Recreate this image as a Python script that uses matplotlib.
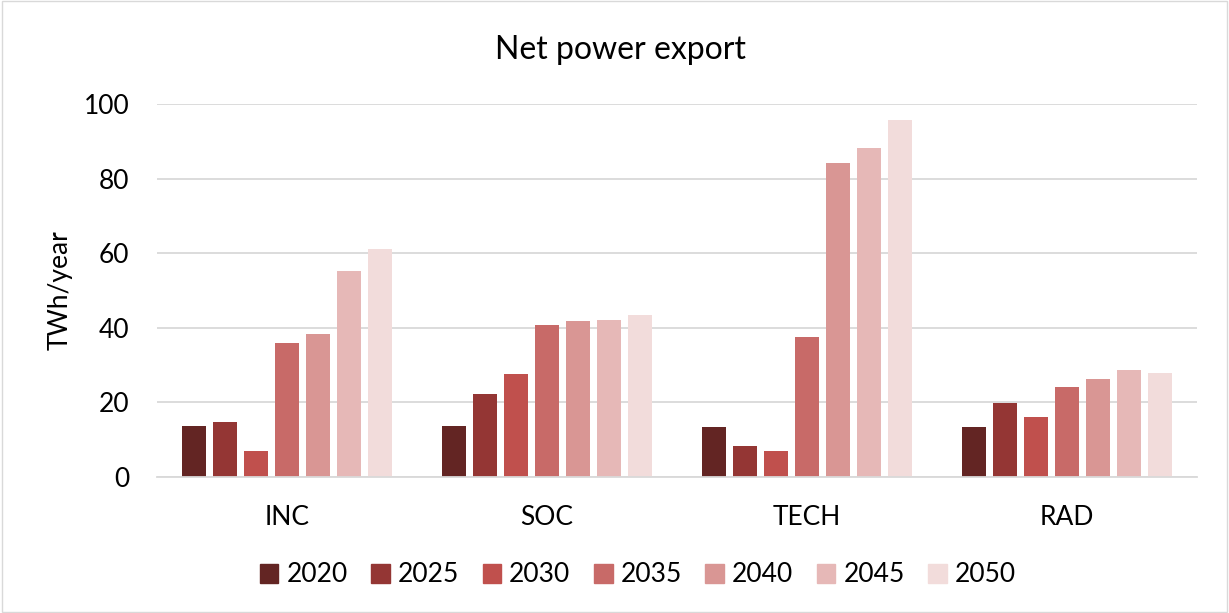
import matplotlib.pyplot as plt
import matplotlib.patches as mpatches
import numpy as np

plt.rcParams["font.family"] = ["Lato", "DejaVu Sans"]

scenarios = ["INC", "SOC", "TECH", "RAD"]
years = ["2020", "2025", "2030", "2035", "2040", "2045", "2050"]
inc = [13.6, 14.8, 7.1, 35.9, 38.3, 55.1, 61.2]
soc = [13.7, 22.2, 27.5, 40.8, 41.8, 42.1, 43.3]
tech = [13.3, 8.2, 6.9, 37.4, 84.1, 88.3, 95.8]
rad = [13.4, 19.9, 16.0, 24.0, 26.4, 28.6, 27.9]
colors = ["#632523", "#943634", "#C0504D", "#C86A68", "#D99694", "#E6B8B7", "#F2DCDB"]

values = np.array([inc, soc, tech, rad])

fig = plt.figure(figsize=(12.29, 6.13), dpi=100)
ax = fig.add_axes([157 / 1229, 1 - 477 / 613, 1040 / 1229, (477 - 104) / 613])

x = np.arange(len(scenarios))
step = 31 / 260
width = 24 / 260
for j, year in enumerate(years):
    offs = (j - 3) * step
    ax.bar(x + offs, values[:, j], width, color=colors[j], label=year, zorder=3)

ax.set_xlim(-0.5, len(scenarios) - 0.5)
ax.set_ylim(0, 100)
ax.set_yticks(range(0, 101, 20))
ax.yaxis.grid(True, color="#d9d9d9", linewidth=1.3, zorder=0)
ax.set_xticks(x)
ax.set_xticklabels(scenarios)
ax.tick_params(axis="both", length=0, labelsize=19, colors="black")
ax.tick_params(axis="x", pad=20)
ax.tick_params(axis="y", pad=20)
for s in ["top", "right", "left"]:
    ax.spines[s].set_visible(False)
ax.spines["bottom"].set_color("#d9d9d9")
ax.spines["bottom"].set_linewidth(1.3)
ax.spines["bottom"].set_zorder(4)

ax.set_ylabel("TWh/year", fontsize=19, labelpad=8)
fig.text(0.505, 1 - 50 / 613, "Net power export", ha="center", va="center", fontsize=23)

handles = [mpatches.Patch(color=c, label=y) for c, y in zip(colors, years)]
fig.legend(handles=handles, loc="center", bbox_to_anchor=(0.519, 1 - 575 / 613),
           ncol=7, frameon=False, fontsize=19, handlelength=0.7, handleheight=0.7,
           handletextpad=0.3, columnspacing=0.9)

fig.add_artist(mpatches.Rectangle((0.002, 0.002), 0.996, 0.996, transform=fig.transFigure,
                                  fill=False, edgecolor="#d9d9d9", linewidth=1))

fig.savefig("out.png", dpi=100)
